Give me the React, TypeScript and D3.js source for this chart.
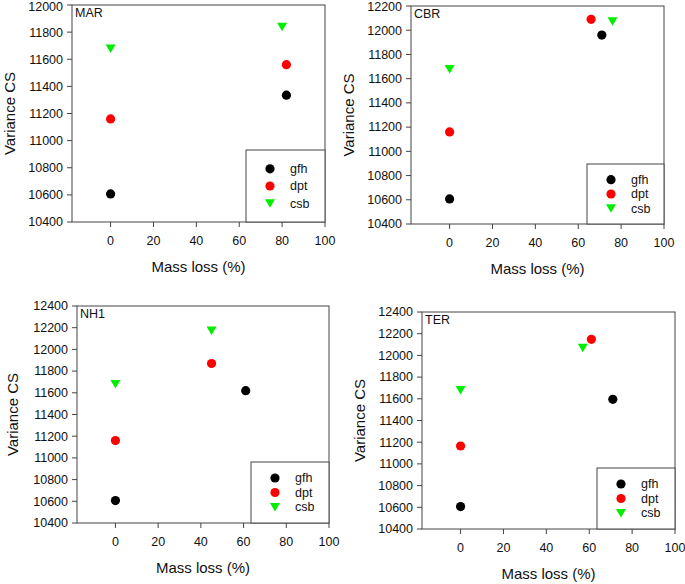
import React from "react";
import * as d3 from "d3";

const seriesNames = ["gfh", "dpt", "csb"];
const seriesColors = ["#000000", "#ff0000", "#00ee00"];

const panelNames = ["MAR", "CBR", "NH1", "TER"];
const yMax = [12000, 12200, 12400, 12400];
const xTicks = [0, 20, 40, 60, 80, 100];

// [x, y] pairs per panel per series
const gfhData = [
  [[0, 10607], [82, 11335]],
  [[0, 10607], [71, 11960]],
  [[0, 10607], [61, 11620]],
  [[0, 10607], [71, 11595]],
];
const dptData = [
  [[0, 11160], [82, 11560]],
  [[0, 11160], [66, 12090]],
  [[0, 11160], [45, 11870]],
  [[0, 11165], [61, 12148]],
];
const csbData = [
  [[0, 11680], [80, 11840]],
  [[0, 11680], [76, 12075]],
  [[0, 11680], [45, 12175]],
  [[0, 11680], [57, 12070]],
];

// layout per panel: left, top, right, bottom of plot; legend box left/top; y-label x; x-label y
const layouts = [
  { l: 72, t: 5, r: 325, b: 222, lgX: 246, lgY: 150, ylx: 15, xly: 272 },
  { l: 411, t: 6, r: 664, b: 224, lgX: 587, lgY: 164, ylx: 354, xly: 274 },
  { l: 77, t: 306, r: 329, b: 523, lgX: 251, lgY: 462, ylx: 18, xly: 573 },
  { l: 422, t: 312, r: 675, b: 529, lgX: 597, lgY: 468, ylx: 365, xly: 579 },
];

const FONT = "Liberation Sans, Arial, sans-serif";
const AXIS = "#444";

function Marker({ kind, x, y, color }: { kind: number; x: number; y: number; color: string }) {
  if (kind === 2) {
    const s = 5;
    return (
      <path
        d={`M${x - s},${y - s * 0.8} L${x + s},${y - s * 0.8} L${x},${y + s * 0.9} Z`}
        fill={color}
      />
    );
  }
  return <circle cx={x} cy={y} r={4.6} fill={color} />;
}

function Panel({ i }: { i: number }) {
  const L = layouts[i];
  const x = d3.scaleLinear().domain([-18, 100]).range([L.l, L.r]);
  const y = d3.scaleLinear().domain([10400, yMax[i]]).range([L.b, L.t]);
  const yTicks = d3.range(10400, yMax[i] + 1, 200);
  const all = [gfhData[i], dptData[i], csbData[i]];
  const lgH = L.b - L.lgY;
  const rowGap = lgH / 4.2;
  return (
    <g fontFamily={FONT}>
      <rect x={L.l} y={L.t} width={L.r - L.l} height={L.b - L.t} fill="none" stroke={AXIS} strokeWidth={1} />
      {yTicks.map((t) => (
        <g key={t}>
          <line x1={L.l - 5} x2={L.l} y1={y(t)} y2={y(t)} stroke={AXIS} />
          <text x={L.l - 9} y={Math.max(y(t), 7)} dy="0.35em" textAnchor="end" fontSize={12.5} fill="#111">
            {t}
          </text>
        </g>
      ))}
      {xTicks.map((t) => (
        <g key={t}>
          <line x1={x(t)} x2={x(t)} y1={L.b} y2={L.b + 5} stroke={AXIS} />
          <text x={x(t)} y={L.b + 23} textAnchor="middle" fontSize={12.5} fill="#111">
            {t}
          </text>
        </g>
      ))}
      <text x={L.l + 3} y={L.t + 12} fontSize={12.5} fill="#111">
        {panelNames[i]}
      </text>
      <text x={(L.l + L.r) / 2} y={L.xly} textAnchor="middle" fontSize={15} fill="#111">
        Mass loss (%)
      </text>
      <text
        transform={`translate(${L.ylx},${(L.t + L.b) / 2}) rotate(-90)`}
        textAnchor="middle"
        fontSize={15}
        fill="#111"
      >
        Variance CS
      </text>
      <rect x={L.lgX} y={L.lgY} width={L.r - L.lgX} height={lgH} fill="white" stroke={AXIS} />
      {seriesNames.map((n, k) => {
        const ry = L.lgY + rowGap * (1.1 + k);
        return (
          <g key={n}>
            <Marker kind={k} x={L.lgX + 24} y={ry} color={seriesColors[k]} />
            <text x={L.lgX + 44} y={ry} dy="0.35em" fontSize={12.5} fill="#111">
              {n}
            </text>
          </g>
        );
      })}
      {all.map((pts, k) =>
        pts.map((p, j) => (
          <Marker key={`${k}-${j}`} kind={k} x={x(p[0])} y={y(p[1])} color={seriesColors[k]} />
        ))
      )}
    </g>
  );
}

export default function App() {
  return (
    <svg width={685} height={584} style={{ position: "absolute", left: 0, top: 0, background: "white" }}>
      {[0, 1, 2, 3].map((i) => (
        <Panel key={i} i={i} />
      ))}
    </svg>
  );
}
